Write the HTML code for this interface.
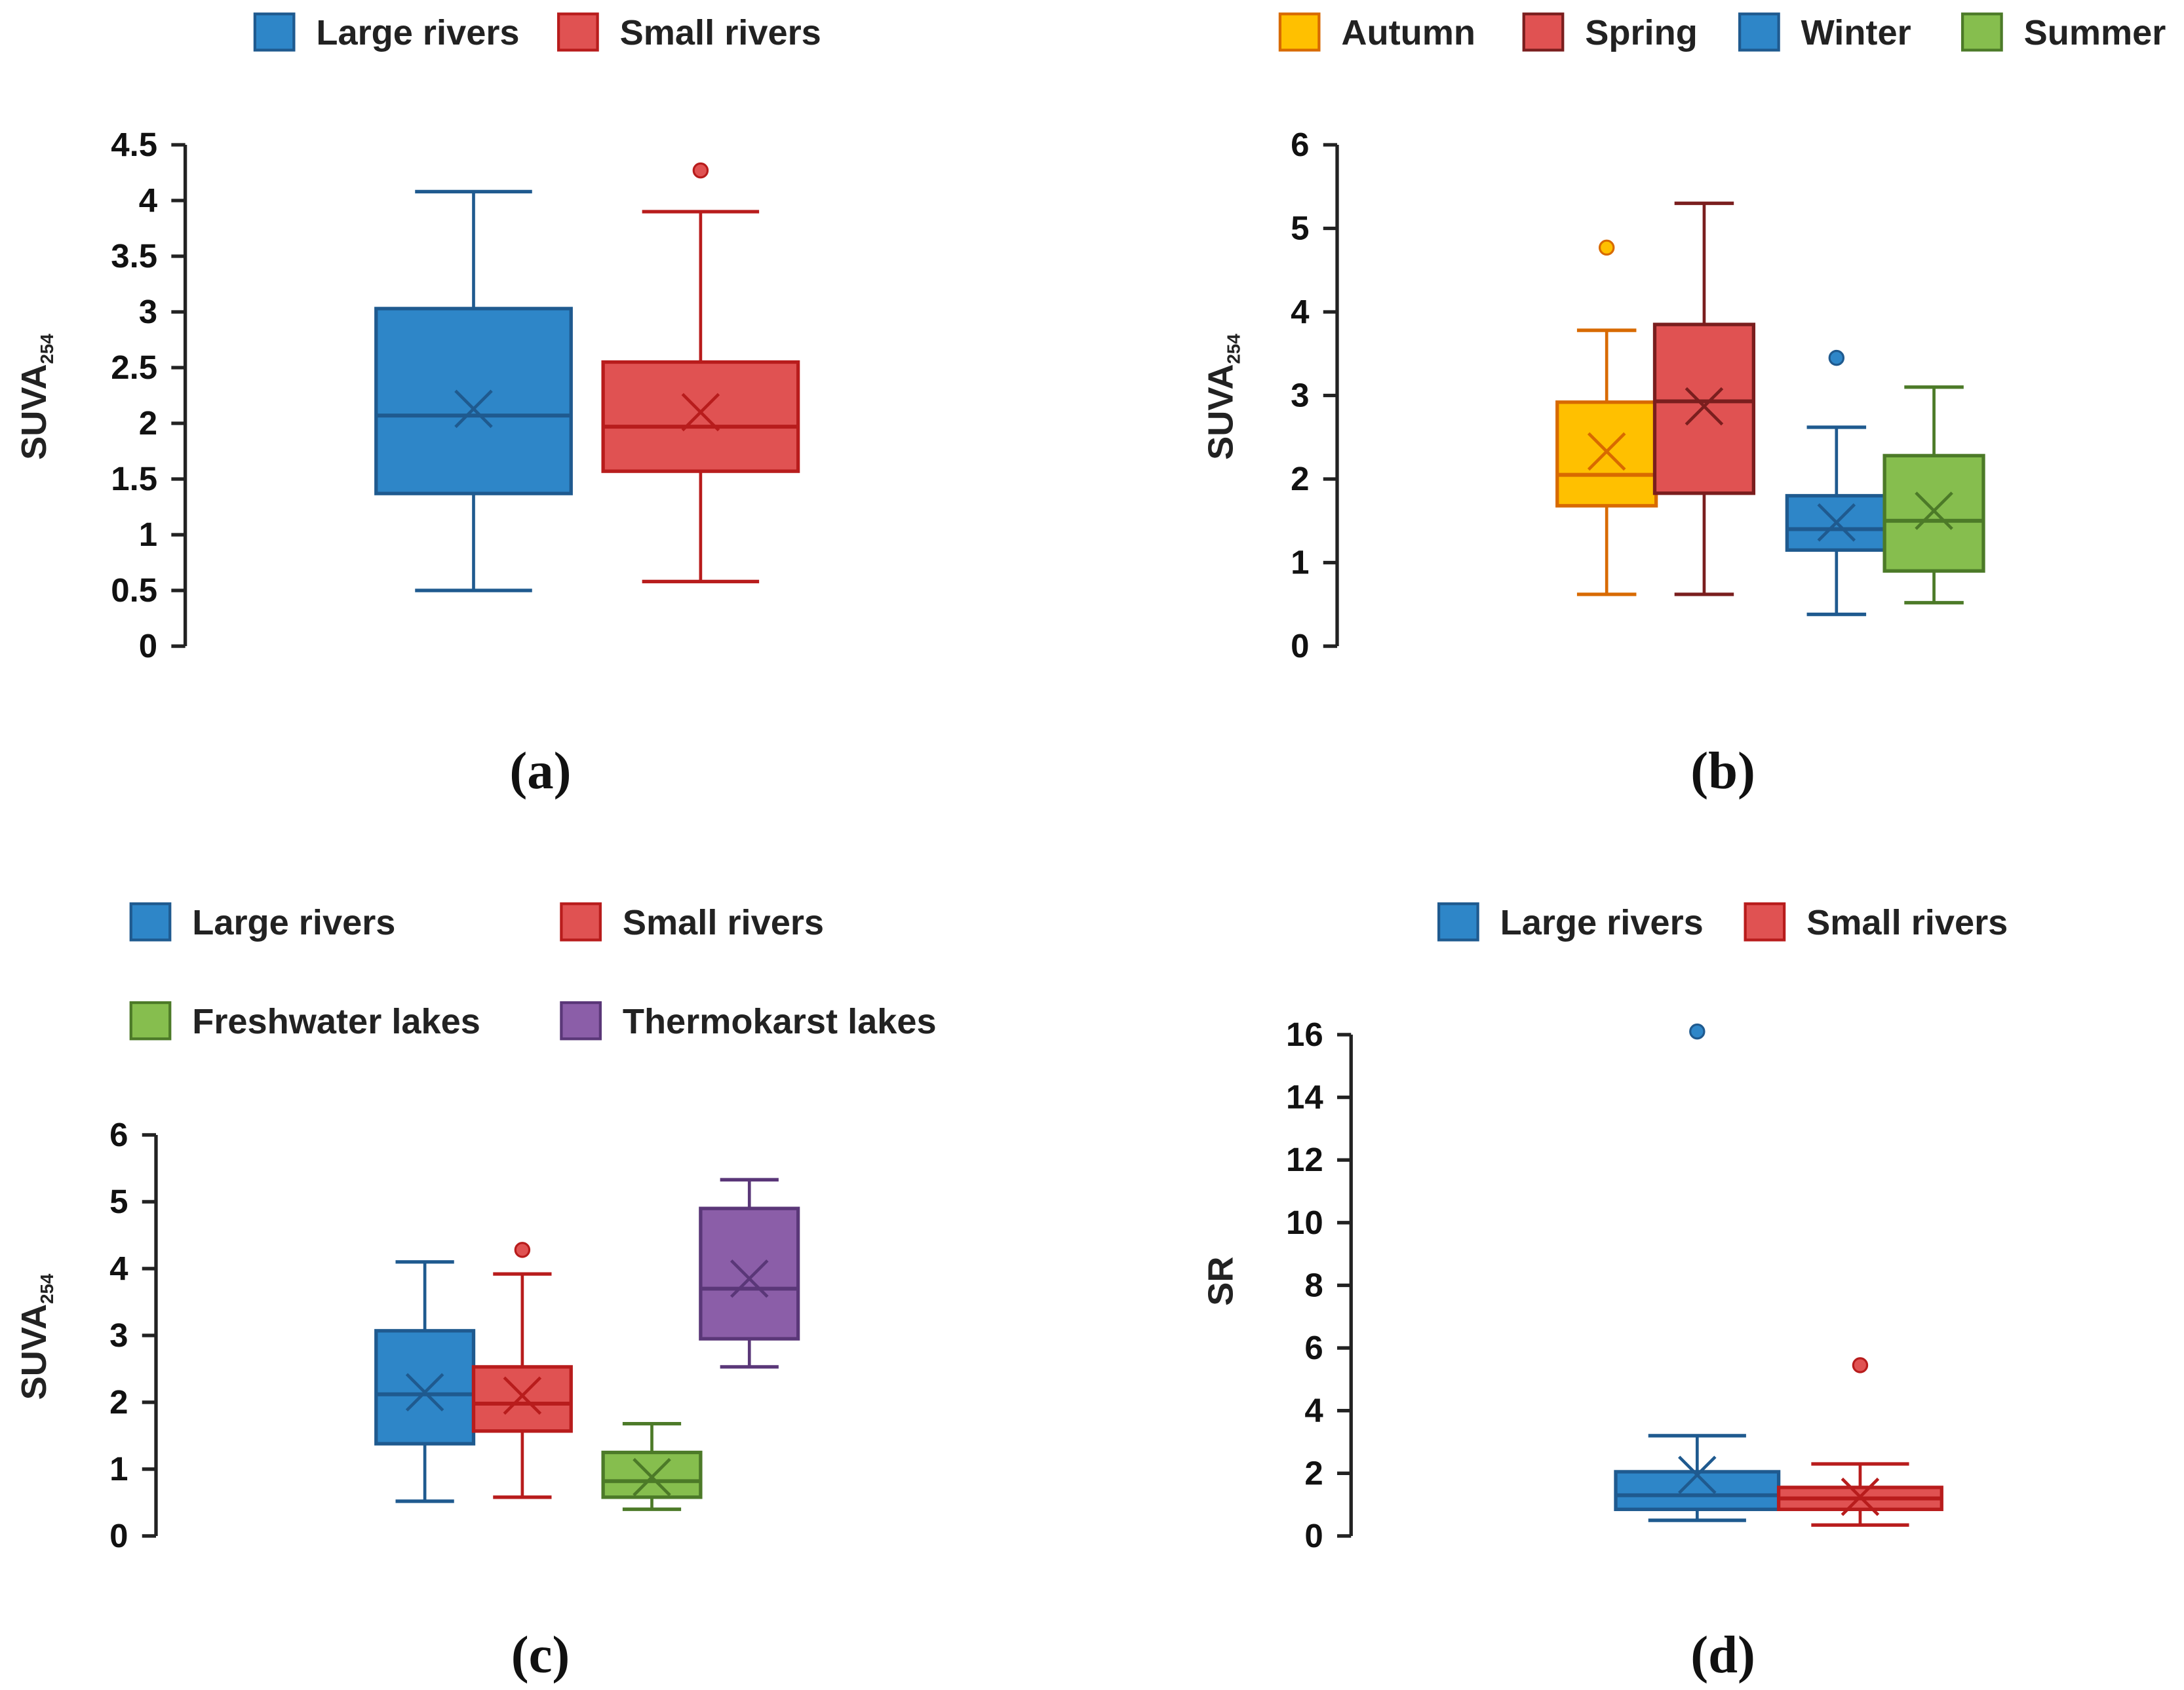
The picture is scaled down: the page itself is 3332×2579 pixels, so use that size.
<!DOCTYPE html>
<html><head><meta charset="utf-8"><style>
html,body{margin:0;padding:0;background:#fff;}
svg{display:block;}
text{font-family:"Liberation Sans",sans-serif;}
.tk{font-size:24px;font-weight:bold;fill:#111;}
.lg{font-size:25.5px;font-weight:bold;fill:#222;}
.cap{font-family:"Liberation Serif",serif;font-size:38px;font-weight:bold;fill:#111;}
</style></head><body>
<svg id="fig" width="3332" height="2579" viewBox="0 0 1568 1213.6" preserveAspectRatio="none" xmlns="http://www.w3.org/2000/svg"></svg>
<script>
// Panel (a)
const aCats = ["Large rivers", "Small rivers"];
const aQ1 = [1.37, 1.57];
const aQ3 = [3.03, 2.55];
const aMed = [2.07, 1.97];
const aMean = [2.13, 2.10];
const aLo = [0.50, 0.58];
const aHi = [4.08, 3.90];
const aOut = [[], [4.27]];
const aTicks = ["0","0.5","1","1.5","2","2.5","3","3.5","4","4.5"];
// Panel (b)
const bCats = ["Autumn", "Spring", "Winter", "Summer"];
const bQ1 = [1.68, 1.83, 1.15, 0.90];
const bQ3 = [2.92, 3.85, 1.80, 2.28];
const bMed = [2.05, 2.93, 1.40, 1.50];
const bMean = [2.33, 2.87, 1.48, 1.62];
const bLo = [0.62, 0.62, 0.38, 0.52];
const bHi = [3.78, 5.30, 2.62, 3.10];
const bOut = [[4.77], [], [3.45], []];
const bTicks = ["0","1","2","3","4","5","6"];
// Panel (c)
const cCats = ["Large rivers", "Small rivers", "Freshwater lakes", "Thermokarst lakes"];
const cQ1 = [1.38, 1.57, 0.58, 2.95];
const cQ3 = [3.07, 2.53, 1.25, 4.90];
const cMed = [2.12, 1.98, 0.82, 3.70];
const cMean = [2.15, 2.10, 0.88, 3.85];
const cLo = [0.52, 0.58, 0.40, 2.53];
const cHi = [4.10, 3.92, 1.68, 5.33];
const cOut = [[], [4.28], [], []];
const cTicks = ["0","1","2","3","4","5","6"];
// Panel (d)
const dCats = ["Large rivers", "Small rivers"];
const dQ1 = [0.85, 0.85];
const dQ3 = [2.05, 1.55];
const dMed = [1.30, 1.20];
const dMean = [1.95, 1.25];
const dLo = [0.50, 0.35];
const dHi = [3.20, 2.30];
const dOut = [[16.1], [5.45]];
const dTicks = ["0","2","4","6","8","10","12","14","16"];

const NS = "http://www.w3.org/2000/svg";
const svg = document.getElementById('fig');
const COL = {
  blue:["#2E86C8","#1F5A8F"], red:["#E05252","#B81C1C"], spring:["#E05252","#7A1E1E"],
  orange:["#FFC000","#D86A00"], green:["#86BE4E","#4C7A28"], purple:["#8B5EA8","#5A3778"]
};
function mk(tag, attrs, parent){
  const e = document.createElementNS(NS, tag);
  for (const k in attrs) e.setAttribute(k, attrs[k]);
  (parent||svg).appendChild(e);
  return e;
}
function panel(p){
  const g = mk('g', {});
  
  
  const vmax = parseFloat(p.ticks[p.ticks.length-1]);
  const y = v => p.y0 - (v / vmax) * (p.y0 - p.yTop);
  const ax = mk('line', {x1:p.ax, y1:p.yTop, x2:p.ax, y2:p.y0, stroke:"#222", "stroke-width":2.5}, g);
  
  
  p.ticks.forEach(t => {
    const v = parseFloat(t);
    mk('line', {x1:p.ax-10, y1:y(v), x2:p.ax, y2:y(v), stroke:"#222", "stroke-width":2.5}, g);
    const tx = mk('text', {x:p.ax-20, y:y(v)+8, "text-anchor":"end", class:"tk"}, g);
    tx.textContent = t;
    
    
  });
  const yt = mk('text', {x:0, y:0, transform:`translate(${p.ylx},${p.yly}) rotate(-90)`, "text-anchor":"middle", class:"lg", "font-size":"24"}, g);
  
  
  if (p.sub) {
    yt.appendChild(document.createTextNode("SUVA"));
    const ts = document.createElementNS(NS, 'tspan');
    ts.setAttribute('font-size', '13'); ts.setAttribute('dy', '5');
    ts.textContent = "254";
    yt.appendChild(ts);
  } else yt.textContent = p.ytitle;
  p.cats.forEach((c, i) => {
    const [fill, st] = COL[p.colors[i]];
    const bx = p.boxX[i], w = p.boxW, cx = bx + w/2, cw = w*0.3;
    const bg = mk('g', {}, g);
    
    
    mk('line', {x1:cx, y1:y(p.hi[i]), x2:cx, y2:y(p.q3[i]), stroke:st, "stroke-width":2.2}, bg);
    mk('line', {x1:cx, y1:y(p.lo[i]), x2:cx, y2:y(p.q1[i]), stroke:st, "stroke-width":2.2}, bg);
    mk('line', {x1:cx-cw, y1:y(p.hi[i]), x2:cx+cw, y2:y(p.hi[i]), stroke:st, "stroke-width":2.5}, bg);
    mk('line', {x1:cx-cw, y1:y(p.lo[i]), x2:cx+cw, y2:y(p.lo[i]), stroke:st, "stroke-width":2.5}, bg);
    mk('rect', {x:bx, y:y(p.q3[i]), width:w, height:y(p.q1[i])-y(p.q3[i]), fill:fill, stroke:st, "stroke-width":2.5}, bg);
    mk('line', {x1:bx, y1:y(p.med[i]), x2:bx+w, y2:y(p.med[i]), stroke:st, "stroke-width":2.8}, bg);
    const m = y(p.mean[i]), s = 13;
    mk('path', {d:`M${cx-s} ${m-s}L${cx+s} ${m+s}M${cx+s} ${m-s}L${cx-s} ${m+s}`, stroke:st, "stroke-width":2.2, fill:"none"}, bg);
    p.out[i].forEach(o => {
      const ci = mk('circle', {cx:cx, cy:y(o), r:5, fill:fill, stroke:st, "stroke-width":1.5}, bg);
      
      
    });
  });
  p.leg.forEach((l, i) => {
    const [fill, st] = COL[p.colors[i]];
    const lg = mk('g', {}, g);
    
    
    mk('rect', {x:l[0], y:l[1]-13, width:28, height:26, fill:fill, stroke:st, "stroke-width":2}, lg);
    const t = mk('text', {x:l[0]+44, y:l[1]+9, class:"lg"}, lg);
    t.textContent = p.cats[i];
  });
  const cap = mk('text', {x:p.capX, y:p.capY, "text-anchor":"middle", class:"cap"}, g);
  cap.textContent = "(" + p.id + ")";
  
  
}
panel({id:"a", cats:aCats, q1:aQ1, q3:aQ3, med:aMed, mean:aMean, lo:aLo, hi:aHi, out:aOut, ticks:aTicks,
  ax:133, y0:464, yTop:104, boxX:[270,433], boxW:140, colors:["blue","red"], sub:true, ylx:33, yly:285,
  leg:[[183,23],[401,23]], capX:388, capY:566});
panel({id:"b", cats:bCats, q1:bQ1, q3:bQ3, med:bMed, mean:bMean, lo:bLo, hi:bHi, out:bOut, ticks:bTicks,
  ax:960, y0:464, yTop:104, boxX:[1118,1188,1283,1353], boxW:71, colors:["orange","spring","blue","green"], sub:true, ylx:885, yly:285,
  leg:[[919,23],[1094,23],[1249,23],[1409,23]], capX:1237, capY:566});
panel({id:"c", cats:cCats, q1:cQ1, q3:cQ3, med:cMed, mean:cMean, lo:cLo, hi:cHi, out:cOut, ticks:cTicks,
  ax:112, y0:1103, yTop:815, boxX:[270,340,433,503], boxW:70, colors:["blue","red","green","purple"], sub:true, ylx:33, yly:960,
  leg:[[94,662],[403,662],[94,733],[403,733]], capX:388, capY:1201});
panel({id:"d", cats:dCats, q1:dQ1, q3:dQ3, med:dMed, mean:dMean, lo:dLo, hi:dHi, out:dOut, ticks:dTicks,
  ax:970, y0:1103, yTop:743, boxX:[1160,1277], boxW:117, colors:["blue","red"], sub:false, ytitle:"SR", ylx:885, yly:920,
  leg:[[1033,662],[1253,662]], capX:1237, capY:1201});
</script>
</body></html>
